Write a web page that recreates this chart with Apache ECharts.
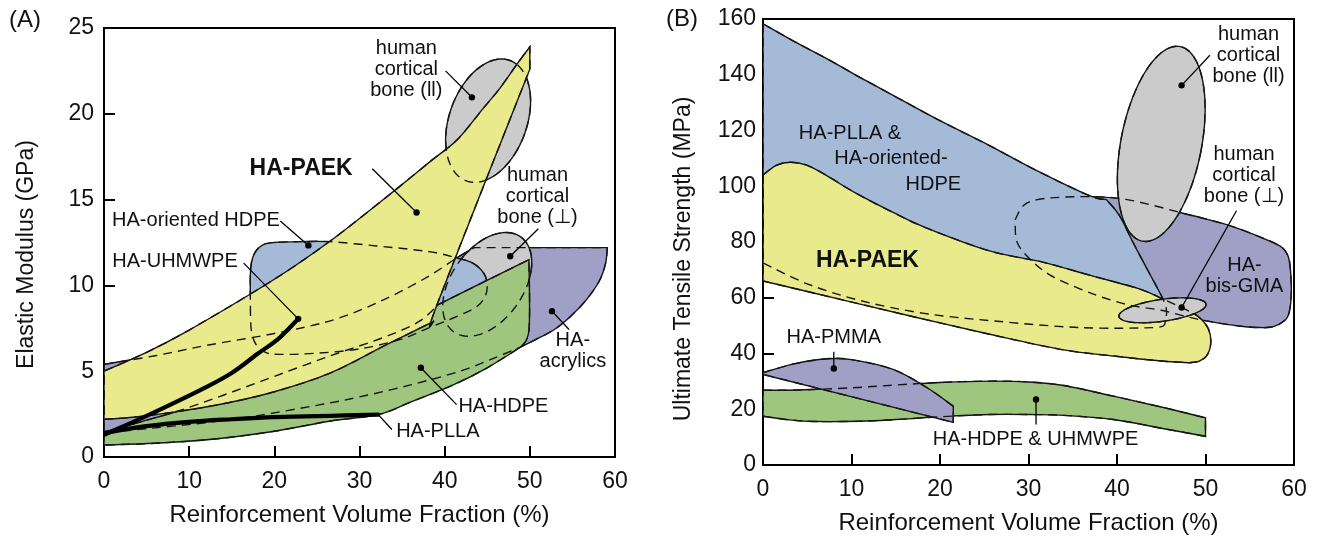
<!DOCTYPE html>
<html>
<head>
<meta charset="utf-8">
<script src="https://cdn.jsdelivr.net/npm/echarts@6/dist/echarts.min.js"></script>
<style>
  html, body { margin: 0; padding: 0; background: #fff; }
  #chart { width: 1320px; height: 538px; }
</style>
</head>
<body>
<div id="chart"></div>
<script>
// ---------- panel A : elastic modulus ----------
const acrylTopA = [[0, 5.4], [6, 5.9], [12, 6.5], [20, 7.2], [27, 8.0], [33, 9.2], [38, 10.5], [41.4, 11.6], [43.5, 12.2]];
const acrylFlatA = [[43.5, 12.2], [59.1, 12.2]];
const acrylRightA = [[59.1, 12.2], [58.9, 11.3], [58.2, 10.3], [56.7, 9.2], [54.8, 8.2], [52.8, 7.4], [50.5, 6.8], [48.9, 6.4]];
const acrylBottomA = [[48.9, 6.4], [45.5, 5.7], [41.8, 5.0], [36, 4.2], [30, 3.5], [25.4, 3.05], [17.9, 2.4], [12, 2.0], [6, 1.7], [0, 1.4]];
const acrylLeftA = [[0, 1.4], [0, 5.4]];

const blueLoopA = [[17.2, 8.3], [17.2, 10.8], [17.6, 11.8], [18.6, 12.35], [20, 12.5], [23, 12.55], [26.6, 12.55], [32, 12.3], [36, 12.1],
  [39, 11.9], [41.4, 11.6], [43.3, 11.3], [44.6, 10.7], [45, 10.0], [44.7, 9.3], [43.6, 8.7], [41, 8.1], [38, 7.5], [34.8, 6.85],
  [30, 6.3], [25, 6.05], [21, 5.98], [19.1, 6.07], [17.8, 6.6], [17.3, 7.4], [17.2, 8.3]];

const greenTopA = [[0, 1.35], [4, 2.0], [8.5, 2.65], [14, 3.6], [20, 4.7], [26.6, 5.9], [33, 7.0], [37, 7.9], [39.3, 8.9]];
const greenRidgeA = [[39.3, 8.9], [49.9, 11.5]];
const greenRightA = [[49.9, 11.5], [49.9, 7.4], [48.9, 6.4]];
const greenBottomA = [[48.9, 6.4], [45, 5.2], [41, 4.2], [36, 3.2], [32.2, 2.47], [26.6, 2.1], [20, 1.5], [13, 1.05], [6, 0.8], [0, 0.7]];
const greenLeftA = [[0, 0.7], [0, 1.35]];

const paekTopA = [[0, 5.0], [5, 6.1], [10, 7.4], [17.2, 9.5], [22, 11.0], [26.6, 12.6], [30, 13.9], [34.8, 15.8], [38.5, 17.3],
  [41.5, 18.5], [44.5, 20.3], [46.5, 21.5], [48.5, 22.9], [50, 23.9]];
const paekRightA = [[50, 23.9], [50, 22.6]];
const paekSlopeA = [[50, 22.6], [39.2, 9.0], [38.7, 7.9]];
const paekBottomA = [[38.7, 7.9], [33, 6.5], [26.6, 4.9], [20, 3.8], [14, 3.1], [8, 2.6], [3, 2.3], [0, 2.2]];
const paekLeftA = [[0, 2.2], [0, 5.0]];

// bone ellipses: centre x, centre y, half axes (x units), tilt in degrees
const boneParA = [45.1, 19.6, 4.56, 7.52, 19.8];
const bonePerpA = [45.0, 10.06, 4.23, 6.82, 35];

const uhmwpeA = [[0, 1.3], [5, 2.4], [11.3, 3.9], [15, 4.9], [18, 6.0], [20.5, 6.9], [22.8, 8.05]];
const pllaA = [[0, 1.4], [5, 1.8], [10, 2.05], [15, 2.2], [20, 2.32], [26.6, 2.4], [32.2, 2.47]];

const labelsA = [
  [10.8, 13.8, 'HA-oriented HDPE'],
  [8.34, 11.4, 'HA-UHMWPE'],
  [35.5, 22.6, 'human\ncortical\nbone (ll)'],
  [50.9, 15.2, 'human\ncortical\nbone (\u22a5)'],
  [55.05, 6.16, 'HA-\nacrylics'],
  [46.9, 2.95, 'HA-HDPE'],
  [39.2, 1.49, 'HA-PLLA']
];
const boldLabelsA = [[23.15, 16.78, 'HA-PAEK']];
const leadersA = [
  [40.1, 22.5, 43.2, 20.96], [31.5, 16.8, 36.7, 14.25], [51.0, 13.3, 47.7, 11.7], [20.7, 13.75, 24.0, 12.33],
  [16.4, 11.3, 22.8, 8.05], [41.4, 3.05, 37.2, 5.2], [32.2, 2.47, 33.8, 1.6], [54.6, 7.43, 52.6, 8.5]
];
const dotsA = [[43.2, 20.96], [36.7, 14.25], [47.7, 11.7], [24.0, 12.33], [22.8, 8.05], [37.2, 5.2], [52.6, 8.5]];

// ---------- panel B : tensile strength ----------
const gmaLoopB = [[28.5, 88], [29.4, 93], [31, 95.2], [34, 96.1], [38, 96.2], [41, 95.3], [44, 93.2], [47.1, 90.6], [50, 88.3],
  [53, 85.6], [56, 82], [58.4, 78.6], [59.3, 75.2], [59.6, 70], [59.7, 62], [59.5, 55.5], [59, 52], [57.3, 49.4], [54, 49.8],
  [50.1, 51.7], [47.5, 53.5], [45, 55.5], [41.5, 57.3], [38.5, 60], [35.8, 63.2], [32.5, 68], [30.2, 73.8], [28.7, 80], [28.5, 88]];

const blueTopB = [[0, 158.3], [3.5, 152], [7.2, 145.8], [11, 139], [14.7, 132.6], [20, 123.5], [25.6, 114.6], [31, 105.5], [36.9, 96.6], [38.8, 95.2]];
const blueRightB = [[38.8, 95.2], [40.3, 89.4], [41.8, 79.9], [43.4, 70.3], [45.2, 59.5], [45.6, 55], [45.4, 50.5]];
const blueBottomB = [[45.4, 50.5], [44.1, 49.3], [35.8, 49.3], [26, 51.7], [18, 54.5], [11, 59], [5, 65], [0, 72.5]];
const blueLeftB = [[0, 72.5], [0, 158.3]];

const paekTopB = [[0, 104], [1.5, 107.5], [3.1, 108.6], [5, 107.5], [7.2, 103.8], [10.5, 97.5], [14.7, 90.6], [18.5, 85],
  [25.6, 76.8], [31.7, 72.7], [37, 68], [42.6, 63.1], [45.2, 59.5]];
const paekRightB = [[45.2, 59.5], [47.5, 56.2], [49.2, 53.2], [50.3, 49], [50.6, 44], [50.2, 39.5], [49.3, 37.3], [48.2, 36.7]];
const paekBottomB = [[48.2, 36.7], [45, 37.3], [39.6, 39.1], [33.6, 41.5], [25.6, 46.9], [17, 53.2], [8.5, 59.6], [0, 66]];
const paekLeftB = [[0, 66], [0, 104]];

const boneParB = [45.0, 115.2, 4.56, 11.2, 11];
const bonePerpB = [45.14, 55.5, 4.97, 1.24, -8];

const hdpeTopB = [[0, 26.8], [4, 26.9], [10, 27.7], [15, 28.7], [20, 29.6], [25.6, 30.1], [30, 29.8], [34, 28.5], [39.6, 24.7], [45, 20.8], [50, 16.9]];
const hdpeRightB = [[50, 16.9], [50, 10.3]];
const hdpeBottomB = [[50, 10.3], [45, 13.2], [39.6, 16.3], [34, 17.8], [30.2, 18.1], [25.6, 18.1], [20, 17.3], [15, 16.3], [11, 15.7], [6, 15.6], [3, 16.2], [0, 17.5]];
const hdpeLeftB = [[0, 17.5], [0, 26.8]];

const pmmaTopB = [[0, 33.1], [3.5, 36.3], [7.2, 38.1], [10, 37.8], [14.7, 34.3], [18.5, 27.8], [21.5, 21.1]];
const pmmaRightB = [[21.5, 21.1], [21.5, 15.3]];
const pmmaBottomB = [[21.5, 15.3], [0, 32.5]];
const pmmaLeftB = [[0, 32.5], [0, 33.1]];

const labelsB = [
  [9.83, 118.8, 'HA-PLLA &'],
  [14.45, 109.8, 'HA-oriented-'],
  [19.25, 100.8, 'HDPE'],
  [54.86, 147.0, 'human\ncortical\nbone (ll)'],
  [54.35, 103.8, 'human\ncortical\nbone (\u22a5)'],
  [54.4, 67.8, 'HA-\nbis-GMA'],
  [8.0, 45.7, 'HA-PMMA'],
  [30.8, 9.1, 'HA-HDPE & UHMWPE']
];
const boldLabelsB = [[11.8, 73.2, 'HA-PAEK']];
const leadersB = [[50.5, 147.0, 47.3, 136.2], [53.5, 91.2, 47.3, 56.5], [8.0, 40.6, 8.0, 34.6], [30.85, 14.5, 30.85, 23.5]];
const dotsB = [[47.3, 136.2], [47.3, 56.5], [8.0, 34.6], [30.85, 23.5]];

// ---------- drawing helpers ----------
const FONT = '"Liberation Sans", Arial, Helvetica, sans-serif';
const C = { blue: '#a4bad7', yellow: '#e9ea8c', green: '#9fc67e', purple: '#a09fc6', grey: '#cbcbcb', ink: '#151515' };

function splinePath(edges, api, close) {
  let d = '';
  edges.forEach(function (edge, k) {
    const p = edge.map(function (v) { return api.coord(v); });
    d += (k === 0 ? 'M' : 'L') + p[0][0] + ' ' + p[0][1];
    for (let i = 0; i < p.length - 1; i++) {
      const a = p[i > 0 ? i - 1 : i], b = p[i], c = p[i + 1], e = p[i + 2 < p.length ? i + 2 : i + 1];
      d += 'C' + (b[0] + (c[0] - a[0]) / 6) + ' ' + (b[1] + (c[1] - a[1]) / 6) + ' ' +
        (c[0] - (e[0] - b[0]) / 6) + ' ' + (c[1] - (e[1] - b[1]) / 6) + ' ' + c[0] + ' ' + c[1];
    }
  });
  return close ? d + 'Z' : d;
}

function ellipsePath(el, api) {
  const c = api.coord([el[0], el[1]]);
  const rx = api.size([el[2], 0])[0], ry = api.size([el[3], 0])[0];
  const t = el[4] * Math.PI / 180;
  let d = '';
  for (let i = 0; i <= 90; i++) {
    const a = i / 90 * 2 * Math.PI;
    const ux = rx * Math.cos(a), uy = ry * Math.sin(a);
    d += (i ? 'L' : 'M') + (c[0] + ux * Math.cos(t) - uy * Math.sin(t)) + ' ' + (c[1] + ux * Math.sin(t) + uy * Math.cos(t));
  }
  return d + 'Z';
}

function shapeSeries(g, z, build, style) {
  return {
    type: 'custom', xAxisIndex: g, yAxisIndex: g, z: z, silent: true, clip: true,
    data: [[0, 0]],
    renderItem: function (params, api) {
      return { type: 'path', shape: { pathData: build(api) }, style: style };
    }
  };
}

function region(g, z, edges, fill) {
  return [
    shapeSeries(g, z, function (api) { return splinePath(edges, api, true); }, { fill: fill, stroke: C.ink, lineWidth: 1.4 }),
    shapeSeries(g, 20, function (api) { return splinePath(edges, api, true); }, { fill: 'none', stroke: C.ink, lineWidth: 1.4, lineDash: [9, 6] })
  ];
}

function bone(g, z, el) {
  return [
    shapeSeries(g, z, function (api) { return ellipsePath(el, api); }, { fill: C.grey, stroke: C.ink, lineWidth: 1.4 }),
    shapeSeries(g, 20, function (api) { return ellipsePath(el, api); }, { fill: 'none', stroke: C.ink, lineWidth: 1.4, lineDash: [9, 6] })
  ];
}

function thick(g, pts) {
  return shapeSeries(g, 25, function (api) { return splinePath([pts], api, false); }, { fill: 'none', stroke: '#000', lineWidth: 4.2, lineCap: 'round' });
}

function leaderSeries(g, leaders, dots) {
  return {
    type: 'custom', xAxisIndex: g, yAxisIndex: g, z: 30, silent: true,
    data: [[0, 0]],
    renderItem: function (params, api) {
      const kids = leaders.map(function (l) {
        const a = api.coord([l[0], l[1]]), b = api.coord([l[2], l[3]]);
        return { type: 'line', shape: { x1: a[0], y1: a[1], x2: b[0], y2: b[1] }, style: { stroke: '#000', lineWidth: 1.3 } };
      }).concat(dots.map(function (p) {
        const c = api.coord(p);
        return { type: 'circle', shape: { cx: c[0], cy: c[1], r: 3.2 }, style: { fill: '#000' } };
      }));
      return { type: 'group', children: kids };
    }
  };
}

function labelSeries(g, labels, weight, size) {
  return {
    type: 'custom', xAxisIndex: g, yAxisIndex: g, z: 40, silent: true, clip: false,
    data: labels.map(function (l) { return [l[0], l[1]]; }),
    renderItem: function (params, api) {
      const l = labels[params.dataIndex];
      const c = api.coord([l[0], l[1]]);
      return {
        type: 'text',
        style: { text: l[2], x: c[0], y: c[1], align: 'center', verticalAlign: 'middle', fill: '#111',
          font: weight + ' ' + size + 'px ' + FONT, lineHeight: 21 }
      };
    }
  };
}

function axisX(g, gap) {
  return {
    gridIndex: g, type: 'value', min: 0, max: 60, interval: 10,
    axisLine: { lineStyle: { color: '#000', width: 2 } },
    axisTick: { inside: true, length: 11, lineStyle: { color: '#000', width: 2 } },
    axisLabel: { fontSize: 23, color: '#111', margin: 13, fontFamily: FONT },
    splitLine: { show: false },
    name: 'Reinforcement Volume Fraction (%)', nameLocation: 'middle', nameGap: gap,
    nameTextStyle: { fontSize: 24, color: '#111', fontFamily: FONT }
  };
}

function axisY(g, max, step, name, gap, margin, pad) {
  return {
    gridIndex: g, type: 'value', min: 0, max: max, interval: step,
    axisLine: { lineStyle: { color: '#000', width: 2 } },
    axisTick: { inside: true, length: 11, lineStyle: { color: '#000', width: 2 } },
    axisLabel: { fontSize: 23, color: '#111', margin: margin, fontFamily: FONT },
    splitLine: { show: false },
    name: name, nameLocation: 'middle', nameGap: gap, nameRotate: 90,
    nameTextStyle: { fontSize: 23, color: '#111', fontFamily: FONT, padding: pad }
  };
}

const chart = echarts.init(document.getElementById('chart'), null, { renderer: 'canvas' });

const series = [].concat(
  // panel A, back to front
  region(0, 1, [acrylTopA, acrylFlatA, acrylRightA, acrylBottomA, acrylLeftA], C.purple),
  bone(0, 2, bonePerpA),
  region(0, 3, [blueLoopA], C.blue),
  region(0, 4, [greenTopA, greenRidgeA, greenRightA, greenBottomA, greenLeftA], C.green),
  bone(0, 5, boneParA),
  region(0, 6, [paekTopA, paekRightA, paekSlopeA, paekBottomA, paekLeftA], C.yellow),
  [thick(0, uhmwpeA), thick(0, pllaA), leaderSeries(0, leadersA, dotsA),
    labelSeries(0, labelsA, 'normal', 20), labelSeries(0, boldLabelsA, 'bold', 23)],
  // panel B, back to front
  region(1, 1, [gmaLoopB], C.purple),
  region(1, 2, [blueTopB, blueRightB, blueBottomB, blueLeftB], C.blue),
  region(1, 3, [paekTopB, paekRightB, paekBottomB, paekLeftB], C.yellow),
  bone(1, 4, boneParB),
  bone(1, 5, bonePerpB),
  region(1, 6, [hdpeTopB, hdpeRightB, hdpeBottomB, hdpeLeftB], C.green),
  region(1, 7, [pmmaTopB, pmmaRightB, pmmaBottomB, pmmaLeftB], C.purple),
  [leaderSeries(1, leadersB, dotsB), labelSeries(1, labelsB, 'normal', 20), labelSeries(1, boldLabelsB, 'bold', 23)]
);

chart.setOption({
  animation: false,
  backgroundColor: '#fff',
  textStyle: { fontFamily: FONT },
  grid: [
    { left: 104, top: 28, width: 511, height: 429, show: true, borderColor: '#000', borderWidth: 2, outerBoundsMode: 'none' },
    { left: 763, top: 19, width: 531, height: 446, show: true, borderColor: '#000', borderWidth: 2, outerBoundsMode: 'none' }
  ],
  xAxis: [axisX(0, 46), axisX(1, 46)],
  yAxis: [
    axisY(0, 25, 5, 'Elastic Modulus (GPa)', 66, 10, [0, 24, 0, 0]),
    axisY(1, 160, 20, 'Ultimate Tensile Strength (MPa)', 68, 7, [0, 34, 0, 0])
  ],
  graphic: [
    { type: 'text', left: 9, top: 8, style: { text: '(A)', font: '24px ' + FONT, fill: '#111' } },
    { type: 'text', left: 666, top: 7, style: { text: '(B)', font: '24px ' + FONT, fill: '#111' } }
  ],
  series: series
});
</script>
</body>
</html>
